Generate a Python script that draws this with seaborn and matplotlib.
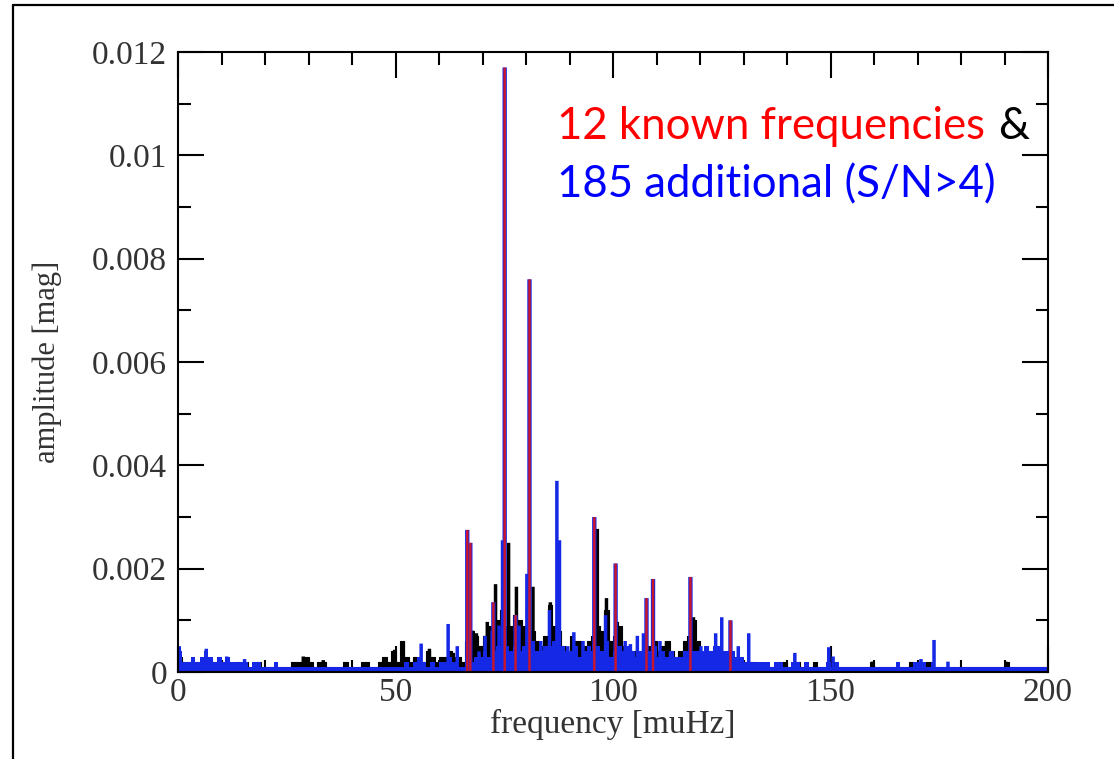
import numpy as np
import pandas as pd
import matplotlib
matplotlib.use("Agg")
import matplotlib.pyplot as plt
from matplotlib.lines import Line2D
from matplotlib.ticker import MultipleLocator
import seaborn as sns

UNIT = 1e-4  # all amplitudes below are listed in units of 1e-4 mag

# Left edges of the 1 muHz frequency bins of the amplitude spectra
freq_bins = np.arange(0, 200)

# Amplitude spectrum of the observed light curve (black), per 1 muHz bin
black_level = [
    3, 2, 2, 2, 2, 2, 3, 2, 2, 2,
    2, 2, 1, 2, 1, 2, 1, 1, 2, 1,
    1, 1, 1, 1, 1, 1, 2, 2, 2, 3,
    2, 1, 2, 2, 1, 1, 1, 1, 2, 1,
    1, 1, 2, 2, 1, 1, 2, 3, 2, 4,
    2, 6, 3, 2, 3, 2, 2, 4, 3, 2,
    3, 3, 4, 3, 3, 2, 6, 8, 7, 5,
    7, 9, 8, 10, 12, 9, 9, 11, 10, 9,
    12, 8, 6, 5, 7, 13, 9, 8, 5, 4,
    7, 6, 6, 5, 6, 7, 9, 8, 12, 6,
    7, 9, 5, 4, 4, 3, 4, 3, 5, 6,
    4, 5, 6, 4, 3, 4, 6, 7, 10, 6,
    3, 3, 4, 3, 2, 3, 2, 3, 2, 2,
    2, 2, 2, 1, 1, 1, 1, 1, 2, 2,
    1, 1, 2, 1, 1, 1, 2, 1, 1, 1,
    2, 1, 1, 1, 1, 1, 1, 1, 1, 2,
    1, 1, 1, 1, 1, 1, 1, 1, 2, 1,
    1, 1, 2, 1, 1, 1, 1, 1, 1, 1,
    1, 1, 1, 1, 1, 1, 1, 1, 1, 1,
    2, 1, 1, 1, 1, 1, 1, 1, 1, 1,
]

# Spectrum of the 185 additional frequencies (blue), per 1 muHz bin
blue_level = [
    4, 2, 2, 3, 2, 3, 4, 3, 2, 3,
    2, 3, 2, 2, 2, 2, 1, 2, 2, 1,
    1, 1, 2, 1, 1, 1, 1, 1, 1, 1,
    1, 1, 1, 1, 1, 1, 1, 1, 1, 1,
    1, 1, 1, 1, 1, 1, 1, 1, 1, 1,
    1, 1, 2, 1, 2, 3, 2, 1, 2, 1,
    2, 2, 3, 2, 1, 1, 3, 2, 3, 3,
    4, 3, 4, 5, 5, 5, 4, 5, 4, 5,
    5, 6, 4, 4, 5, 5, 6, 6, 5, 4,
    4, 5, 3, 4, 5, 4, 5, 4, 6, 3,
    4, 5, 4, 5, 4, 3, 4, 4, 4, 5,
    3, 4, 3, 4, 3, 3, 4, 4, 4, 4,
    4, 5, 4, 5, 5, 4, 4, 4, 3, 3,
    2, 2, 2, 2, 2, 2, 1, 2, 2, 1,
    1, 2, 2, 1, 2, 1, 1, 1, 1, 2,
    1, 2, 1, 1, 1, 1, 1, 1, 1, 1,
    1, 1, 1, 1, 1, 2, 1, 1, 1, 2,
    2, 2, 1, 2, 1, 1, 1, 1, 1, 1,
    1, 1, 1, 1, 1, 1, 1, 1, 1, 1,
    1, 1, 1, 1, 1, 1, 1, 1, 1, 1,
]

# Narrow peaks of the observed spectrum
black_peak_freq = [28.8, 33.4, 49.8, 51.8, 57.8, 63.3, 67.7, 68.6, 71.1, 73.0,
                   76.0, 77.8, 81.6, 85.6, 96.4, 98.5, 101.0, 112.3, 116.7,
                   118.5, 159.7, 190.3]
black_peak_amp = [3, 2.3, 4.3, 6, 4.5, 3.7, 8, 7.5, 9.7, 17,
                  25, 16.5, 16.5, 13.5, 27.7, 14.3, 9.7, 6, 6,
                  10.6, 2, 2]

# Narrow peaks of the additional frequencies
blue_peak_freq = [0.3, 6.5, 11.2, 15.3, 55.9, 62.1, 64.2, 69.2, 70.6, 72.2,
                  73.8, 74.6, 78.4, 80.2, 83.4, 85.4, 87.1, 87.7, 89.6, 91.0,
                  93.1, 98.3, 102.8, 104.0, 105.6, 107.0, 110.8, 113.2,
                  120.2, 122.1, 123.6, 125.0, 128.8, 131.2, 141.8, 149.6,
                  150.6, 170.8, 173.8, 177.0]
blue_peak_amp = [5, 4.5, 3, 2.5, 5.5, 9.3, 5, 4, 7, 8,
                 9, 25.5, 9, 19, 6, 12, 37, 25.5, 5, 7.7,
                 6, 11, 6, 5.4, 7, 7.5, 6, 4,
                 5, 4, 7.5, 10.6, 5, 7.5, 3.7, 4.8,
                 3, 2.5, 6.2, 2]

# The 12 known frequencies
known_freq = [66.5, 67.2, 72.5, 75.1, 77.6, 80.8, 95.7, 100.6, 107.7, 109.2,
              117.8, 127.0]
known_amp = [27.5, 25, 13.5, 117, 11, 76, 30, 21, 14.3, 18, 18.4, 10]

x_ticks = [0, 50, 100, 150, 200]
x_tick_labels = ["0", "50", "100", "150", "200"]
y_ticks = [0, 0.002, 0.004, 0.006, 0.008, 0.01, 0.012]
y_tick_labels = ["0", "0.002", "0.004", "0.006", "0.008", "0.01", "0.012"]

BLACK = "#000000"
BLUE = "#1428e6"
RED = "#e01414"
GREY = "#333333"

sns.set_style("ticks")
plt.rcParams["font.family"] = ["Liberation Serif", "DejaVu Serif"]

W, H = 1114, 759
fig = plt.figure(figsize=(W / 100, H / 100), dpi=100)
ax = fig.add_axes([178 / W, 1 - 672 / H, (1048 - 178) / W, (672 - 52) / H])

spectra = pd.DataFrame({
    "freq": freq_bins + 0.5,
    "observed": np.array(black_level, dtype=float) * UNIT,
    "additional": np.array(blue_level, dtype=float) * UNIT,
})

sns.histplot(data=spectra, x="freq", weights="observed",
             binwidth=1, binrange=(0, 200), element="step", fill=True,
             color=BLACK, alpha=1, linewidth=0.8, ax=ax, zorder=1)
ax.bar(black_peak_freq, np.array(black_peak_amp) * UNIT, width=0.8,
       color=BLACK, linewidth=0, zorder=1.5, snap=False)

sns.histplot(data=spectra, x="freq", weights="additional",
             binwidth=1, binrange=(0, 200), element="step", fill=True,
             color=BLUE, alpha=1, linewidth=0, ax=ax, zorder=2)
ax.bar(blue_peak_freq, np.array(blue_peak_amp) * UNIT, width=0.8,
       color=BLUE, linewidth=0, zorder=2.5, snap=False)

# Known frequencies: blue base with a red line on top
ax.bar(known_freq, np.array(known_amp) * UNIT, width=1.0,
       color=BLUE, linewidth=0, zorder=3, snap=False)
ax.bar(known_freq, np.array(known_amp) * UNIT, width=0.55,
       color=RED, alpha=0.9, linewidth=0, zorder=3.5, snap=False)

ax.set_xlim(0, 200)
ax.set_ylim(0, 0.012)
ax.set_xticks(x_ticks)
ax.set_xticklabels(x_tick_labels)
ax.set_yticks(y_ticks)
ax.set_yticklabels(y_tick_labels)
ax.xaxis.set_minor_locator(MultipleLocator(10))
ax.yaxis.set_minor_locator(MultipleLocator(0.001))

ax.tick_params(which="both", direction="in", top=True, right=True,
               bottom=True, left=True, width=1.5, color=BLACK,
               labelcolor=GREY, labelsize=24, pad=8)
ax.tick_params(axis="x", which="both", pad=4)
ax.tick_params(which="major", length=19)
ax.tick_params(which="minor", length=9)
for sp in ax.spines.values():
    sp.set_linewidth(1.5)
    sp.set_color(BLACK)
    sp.set_zorder(5)

ax.set_xlabel("frequency [muHz]", fontsize=24, color=GREY, va="center")
ax.xaxis.set_label_coords(0.5, (672 - 724) / 620)
ax.set_ylabel("amplitude [mag]", fontsize=22, color=GREY, va="center")
ax.yaxis.set_label_coords((47 - 178) / 870, 0.5)

# Annotation
tfont = dict(family=["Lato", "DejaVu Sans"], fontsize=31.5)
t1 = fig.text(557 / W, 1 - 139 / H, "12 known frequencies", color="#ff0000",
              va="baseline", ha="left", **tfont)
fig.canvas.draw()
bb = t1.get_window_extent(fig.canvas.get_renderer())
fig.text(bb.x1 / W + 13 / W, 1 - 139 / H, "&", color="black",
         va="baseline", ha="left", **tfont)
fig.text(557 / W, 1 - 197 / H, "185 additional (S/N>4)", color="#0000ff",
         va="baseline", ha="left", **tfont)

# Frame lines on the left and top of the page
fig.add_artist(Line2D([13 / W, 13 / W], [0, 1 - 5 / H],
                      transform=fig.transFigure, color="black", lw=1.6))
fig.add_artist(Line2D([13 / W, 1], [1 - 5 / H, 1 - 5 / H],
                      transform=fig.transFigure, color="black", lw=1.6))

fig.savefig("out.png", dpi=100)
